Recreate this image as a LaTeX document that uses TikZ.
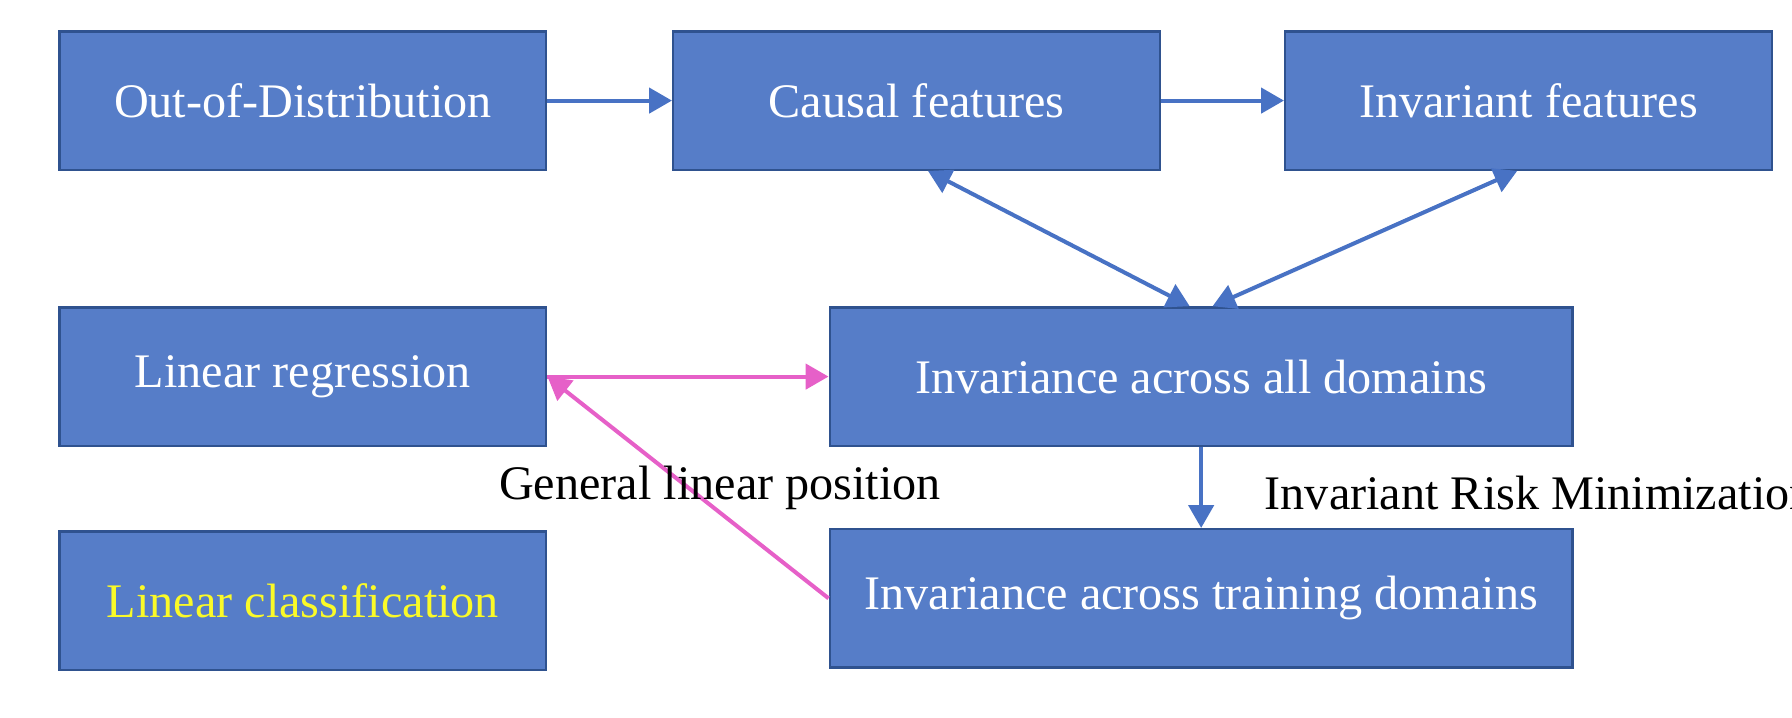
\documentclass[tikz,border=0pt]{standalone}
\usepackage{fontspec}
\setmainfont{Liberation Serif}
\usepackage{tikz}
\usetikzlibrary{calc, positioning, arrows.meta}
\usepackage{xcolor}
\definecolor{boxblue}{RGB}{86,125,200}
\definecolor{edgeblue}{RGB}{47,82,143}
\definecolor{arrowblue}{RGB}{72,114,196}
\definecolor{linkpink}{RGB}{230,96,200}
\definecolor{labelyellow}{RGB}{250,250,40}
\tikzset{
    conceptbox/.style={draw=edgeblue, line width=0.6pt, fill=boxblue, text=white, minimum width=4.26cm, minimum height=1.21cm, align=center, font=\fontsize{12}{14}\selectfont},
    widebox/.style={conceptbox, minimum width=6.5cm},
    flowarrow/.style={-{Triangle[length=2mm, width=2.2mm]}, line width=1pt, draw=arrowblue},
    twowayarrow/.style={{Triangle[length=2mm, width=2.2mm]}-{Triangle[length=2mm, width=2.2mm]}, line width=1pt, draw=arrowblue},
    linkarrow/.style={-{Triangle[length=2mm, width=2.2mm]}, line width=1pt, draw=linkpink},
    note/.style={font=\fontsize{12}{14}\selectfont, inner sep=0pt}
}
\begin{document}
\begin{tikzpicture}[x=1cm,y=1cm]
            \useasboundingbox (0,0) rectangle (15.68,6.28);
            \node[conceptbox] (ood) at (2.65,5.40) {Out-of-Distribution};
            \node[conceptbox] (causal) at (8.02,5.40) {Causal features};
            \node[conceptbox] (invfeat) at (13.375,5.40) {Invariant features};
            \node[conceptbox] (linreg) at (2.65,2.985) {Linear regression};
            \node[widebox] (invall) at (10.51,2.985) {Invariance across all domains};
            \node[conceptbox, text=labelyellow] (lincls) at (2.65,1.025) {Linear classification};
            \node[widebox] (invtrain) at (10.51,1.045) {Invariance across training domains};
            \draw[flowarrow] (ood) -- (causal);
            \draw[flowarrow] (causal) -- (invfeat);
            \draw[twowayarrow] ([xshift=1mm]causal.south) -- ([xshift=-1mm]invall.north);
            \draw[twowayarrow] ([xshift=-1mm]invfeat.south) -- ([xshift=1mm]invall.north);
            \draw[flowarrow] (invall) -- (invtrain);
            \draw[linkarrow] (linreg.east) -- (invall.west);
            \draw[linkarrow] (invtrain.west) -- (linreg.east);
            \node[note] (glp) at (6.30,2.01) {General linear position};
            \node[note, anchor=west] (irm) at (11.06,1.97) {Invariant Risk Minimization};
        \end{tikzpicture}
\end{document}
